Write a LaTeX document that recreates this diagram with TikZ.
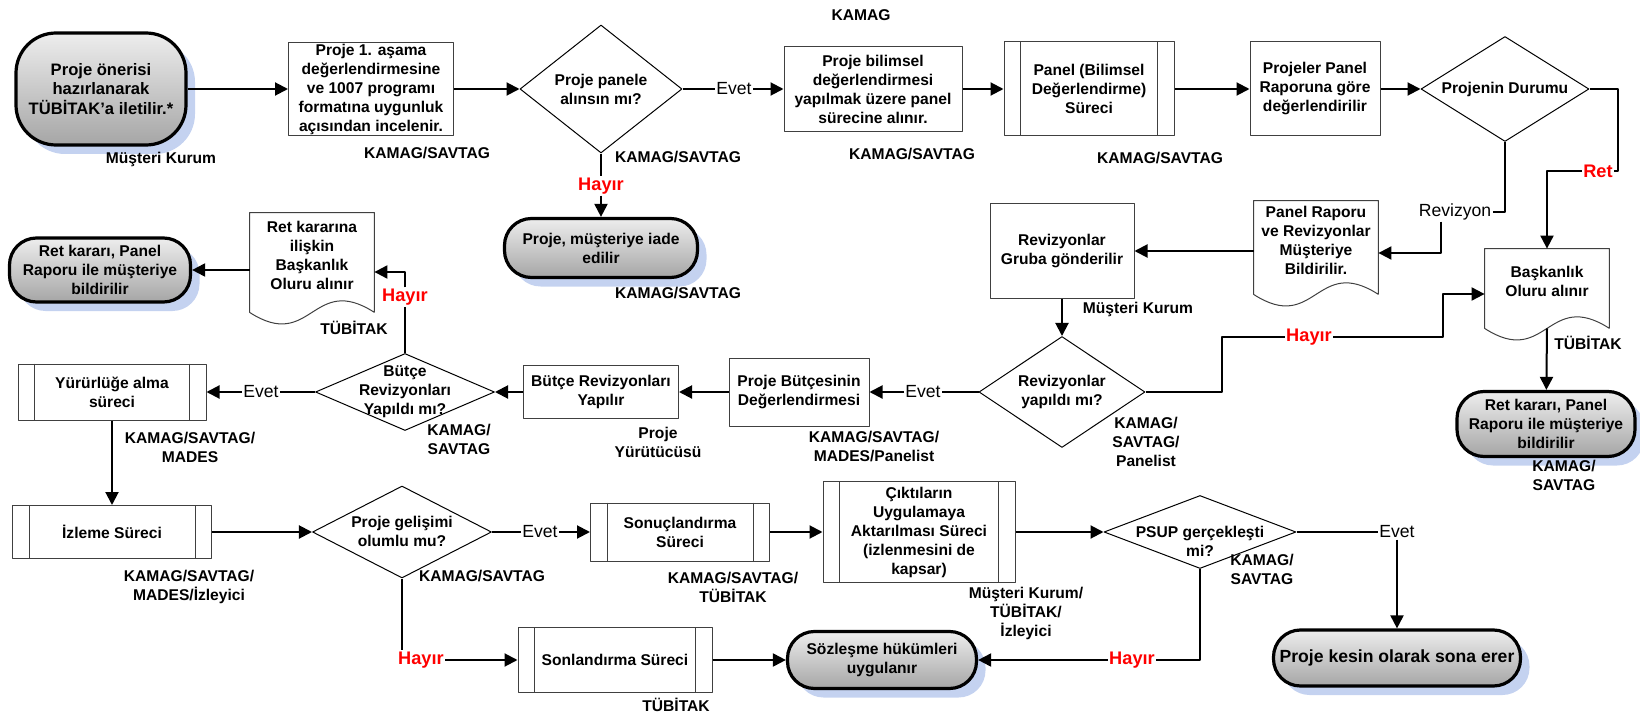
\documentclass[tikz,border=0pt]{standalone}
\usepackage{fontspec}
\setmainfont{Liberation Sans}
\usetikzlibrary{arrows.meta,shapes.geometric,shadows}
\definecolor{golge}{RGB}{196,210,240}
\begin{document}
\begin{tikzpicture}[x=0.5pt, y=-0.5pt, line join=round, >={Triangle[length=6.5pt,width=6.5pt]},
		font=\fontsize{7.8}{9.5}\selectfont\bfseries,
		kutu/.style={draw=black!75, line width=0.5pt, align=center, inner sep=0.5pt},
		uc/.style={draw, line width=1.6pt, rounded corners=13.5pt, align=center, inner sep=1pt, top color=black!7, bottom color=black!35, drop shadow={shadow xshift=4.5pt, shadow yshift=-4.5pt, fill=golge, opacity=1}},
		karar/.style={diamond, draw, line width=0.5pt, inner sep=0pt},
		belge/.style={minimum width=62pt, align=center, inner sep=0.5pt},
		rol/.style={align=center, inner sep=0pt},
		evet/.style={font=\fontsize{8.8}{10}\selectfont\mdseries, inner sep=0.5pt},
		hayir/.style={font=\fontsize{9.1}{10}\selectfont\bfseries, text=red, inner sep=0.5pt},
		ok/.style={line width=1pt}
		]
		\useasboundingbox (0,0) rectangle (1640,717);
		% ust satir
		\node[uc, rounded corners=20pt, minimum width=85pt, minimum height=56pt, font=\fontsize{8.3}{9.7}\selectfont\bfseries] (baslangic) at (101,89) {Proje önerisi\\hazırlanarak\\TÜBİTAK’a iletilir.*};
		\node[kutu, minimum width=82.5pt, minimum height=45.5pt] (asama) at (371,89) {Proje 1. aşama\\değerlendirmesine\\ve 1007 programı\\formatına uygunluk\\açısından incelenir.};
		\node[karar, minimum width=81pt, minimum height=64pt] (q1) at (601,89) {};
		\node[rol] (q1t) at (q1) {Proje panele\\alınsın mı?};
		\node[evet] (ev1) at (734,89) {Evet};
		\node[kutu, minimum width=89pt, minimum height=42.5pt] (bilimsel) at (873,89) {Proje bilimsel\\değerlendirmesi\\yapılmak üzere panel\\sürecine alınır.};
		\node[kutu, minimum width=85pt, minimum height=47pt] (panel) at (1089,89) {Panel (Bilimsel\\Değerlendirme)\\Süreci};
		\node[kutu, minimum width=65pt, minimum height=47pt] (projeler) at (1315,89) {Projeler Panel\\Raporuna göre\\değerlendirilir};
		\node[karar, minimum width=84pt, minimum height=52.5pt] (durum) at (1505,89) {};
		\node[rol] (durumt) at (durum) {Projenin Durumu};
		\node[hayir] (ret) at (1598,171) {Ret};
		\node[evet] (rev) at (1455,212) {Revizyon};
		\node[hayir] (hy1) at (601,186) {Hayır};
		\node[uc, minimum width=96.5pt, minimum height=29.5pt] (iade) at (601,248) {Proje, müşteriye iade\\edilir};
		% belgeler
		\node[belge, minimum height=39pt] (panelrapor) at (1316,240) {Panel Raporu\\ve Revizyonlar\\Müşteriye\\Bildirilir.};
		\node[belge, minimum height=32pt] (baskanlik) at (1547,281) {Başkanlık\\Oluru alınır};
		\node[belge, minimum height=42pt] (retolur) at (312,255) {Ret kararına\\ilişkin\\Başkanlık\\Oluru alınır};
		\node[kutu, minimum width=72pt, minimum height=47pt] (revgrup) at (1062,251) {Revizyonlar\\Gruba gönderilir};
		\node[uc, minimum width=90.5pt, minimum height=32pt] (retL) at (100,270) {Ret kararı, Panel\\Raporu ile müşteriye\\bildirilir};
		\node[uc, minimum width=89pt, minimum height=32.5pt] (retR) at (1546,424) {Ret kararı, Panel\\Raporu ile müşteriye\\bildirilir};
		\node[hayir] (hy3) at (405,297) {Hayır};
		\node[hayir] (hy4) at (1309,337) {Hayır};
		% orta satir
		\node[karar, minimum width=83pt, minimum height=55.5pt] (q4) at (1062,392) {};
		\node[rol] (q4t) at (q4) {Revizyonlar\\yapıldı mı?};
		\node[evet] (ev4) at (923,392) {Evet};
		\node[kutu, minimum width=70pt, minimum height=34pt] (butdeg) at (799,392) {Proje Bütçesinin\\Değerlendirmesi};
		\node[kutu, minimum width=77.5pt, minimum height=26.5pt] (butrev) at (601,392) {Bütçe Revizyonları\\Yapılır};
		\node[karar, minimum width=89.5pt, minimum height=38.5pt] (q3) at (405,392) {};
		\node[rol] (q3t) at (q3) {Bütçe\\Revizyonları\\Yapıldı mı?};
		\node[evet] (ev3) at (261,392) {Evet};
		\node[kutu, minimum width=94pt, minimum height=28pt] (yururluk) at (112,392) {Yürürlüğe alma\\süreci};
		% alt satirlar
		\node[kutu, minimum width=99.5pt, minimum height=26.5pt] (izleme) at (112,532) {İzleme Süreci};
		\node[karar, minimum width=89.5pt, minimum height=46pt] (q5) at (402,532) {};
		\node[rol] (q5t) at (402,531) {Proje gelişimi\\olumlu mu?};
		\node[evet] (ev5) at (540,532) {Evet};
		\node[kutu, minimum width=89.5pt, minimum height=29pt] (sonuc) at (680,532) {Sonuçlandırma\\Süreci};
		\node[kutu, minimum width=96pt, minimum height=50.5pt] (cikti) at (919,532) {Çıktıların\\Uygulamaya\\Aktarılması Süreci\\(izlenmesini de\\kapsar)};
		\node[karar, minimum width=96pt, minimum height=36.5pt] (psup) at (1200,532) {};
		\node[rol] (psupt) at (1200,541) {PSUP gerçekleşti\\mi?};
		\node[evet] (ev6) at (1397,532) {Evet};
		\node[uc, minimum width=123.5pt, minimum height=28pt, font=\fontsize{8.8}{10}\selectfont\bfseries] (son) at (1397,658) {Proje kesin olarak sona erer};
		\node[hayir] (hy5) at (421,660) {Hayır};
		\node[kutu, minimum width=97pt, minimum height=32.5pt] (sonland) at (615,660) {Sonlandırma Süreci};
		\node[uc, minimum width=94.5pt, minimum height=28.5pt] (sozlesme) at (882,660) {Sözleşme hükümleri\\uygulanır};
		\node[hayir] (hy6) at (1132,660) {Hayır};
		% sorumlular
		\node[rol] (r1) at (861,15) {KAMAG};
		\node[rol] (r2) at (161,159) {Müşteri Kurum};
		\node[rol] (r3) at (427,153) {KAMAG/SAVTAG};
		\node[rol] (r4) at (678,157) {KAMAG/SAVTAG};
		\node[rol] (r5) at (912,154) {KAMAG/SAVTAG};
		\node[rol] (r6) at (1160,158) {KAMAG/SAVTAG};
		\node[rol] (r7) at (678,293) {KAMAG/SAVTAG};
		\node[rol] (r8) at (1138,309) {Müşteri Kurum};
		\node[rol] (r9) at (1588,343) {TÜBİTAK};
		\node[rol] (r10) at (1146,442) {KAMAG/\\SAVTAG/\\Panelist};
		\node[rol] (r11) at (1564,475) {KAMAG/\\SAVTAG};
		\node[rol] (r12) at (354,328) {TÜBİTAK};
		\node[rol] (r13) at (190,447) {KAMAG/SAVTAG/\\MADES};
		\node[rol] (r14) at (459,439) {KAMAG/\\SAVTAG};
		\node[rol] (r15) at (658,442) {Proje\\Yürütücüsü};
		\node[rol] (r16) at (874,447) {KAMAG/SAVTAG/\\MADES/Panelist};
		\node[rol] (r17) at (189,587) {KAMAG/SAVTAG/\\MADES/İzleyici};
		\node[rol] (r18) at (482,576) {KAMAG/SAVTAG};
		\node[rol] (r19) at (733,587) {KAMAG/SAVTAG/\\TÜBİTAK};
		\node[rol] (r20) at (1026,613) {Müşteri Kurum/\\TÜBİTAK/\\İzleyici};
		\node[rol] (r21) at (1262,569) {KAMAG/\\SAVTAG};
		\node[rol] (r22) at (676,705) {TÜBİTAK};
		% alt surec cizgileri ve belge dalgalari
		\foreach \n in {panel,yururluk,izleme,sonuc,cikti,sonland}
			\draw[draw=black!75, line width=0.5pt] ([xshift=8.5pt]\n.north west)--([xshift=8.5pt]\n.south west) ([xshift=-8.5pt]\n.north east)--([xshift=-8.5pt]\n.south east);
		\foreach \d in {panelrapor,baskanlik,retolur}
			\draw[draw=black!75, line width=0.5pt] ([yshift=-7.5pt]\d.south east)--(\d.north east)--(\d.north west)--([yshift=-7.5pt]\d.south west) .. controls +(62,40) and +(-62,-40) .. ([yshift=-7.5pt]\d.south east);
		% baglantilar
		\draw[ok,->] (baslangic)--(asama);
		\draw[ok,->] (asama)--(q1);
		\draw[ok] (q1)--(ev1);
		\draw[ok,->] (ev1)--(bilimsel);
		\draw[ok,->] (bilimsel)--(panel);
		\draw[ok,->] (panel)--(projeler);
		\draw[ok,->] (projeler)--(durum);
		\draw[ok] (durum.east)--++(28,0) |- (ret.east);
		\draw[ok,->] (ret.west) -| (baskanlik.north);
		\draw[ok] (durum.south) |- (rev.east);
		\draw[ok,->] ([xshift=-7pt]rev.south) |- ([yshift=-6.5pt]panelrapor.east);
		\draw[ok,->] (panelrapor.west |- revgrup)--(revgrup);
		\draw[ok] (q1)--(hy1);
		\draw[ok,->] (hy1)--(iade);
		\draw[ok,->] (revgrup)--(q4);
		\draw[ok] (q4)--(ev4);
		\draw[ok,->] (ev4)--(butdeg);
		\draw[ok,->] (butdeg)--(butrev);
		\draw[ok,->] (butrev)--(q3);
		\draw[ok] (q3)--(ev3);
		\draw[ok,->] (ev3)--(yururluk);
		\draw[ok] (q3)--(hy3);
		\draw[ok,->] (hy3) |- ([yshift=-8.5pt]retolur.east);
		\draw[ok,->] (retolur.west |- retL)--(retL);
		\draw[ok] (q4.east)--++(76,0) |- (hy4);
		\draw[ok,->] (hy4.east)--++(110,0) |- ([yshift=-6.5pt]baskanlik.west);
		\draw[ok,->] ([yshift=-7.5pt]baskanlik.south)--(retR);
		\draw[ok,->] (yururluk)--(izleme);
		\draw[ok,->] (izleme)--(q5);
		\draw[ok] (q5)--(ev5);
		\draw[ok,->] (ev5)--(sonuc);
		\draw[ok,->] (sonuc)--(cikti);
		\draw[ok,->] (cikti)--(psup);
		\draw[ok] (psup)--(ev6);
		\draw[ok,->] (ev6)--(son);
		\draw[ok] (psup.south) |- (hy6);
		\draw[ok,->] (hy6)--(sozlesme);
		\draw[ok] (q5.south)--(q5.south |- hy5.north);
		\draw[ok,->] (hy5)--(sonland);
		\draw[ok,->] (sonland)--(sozlesme);
\end{tikzpicture}
\end{document}
